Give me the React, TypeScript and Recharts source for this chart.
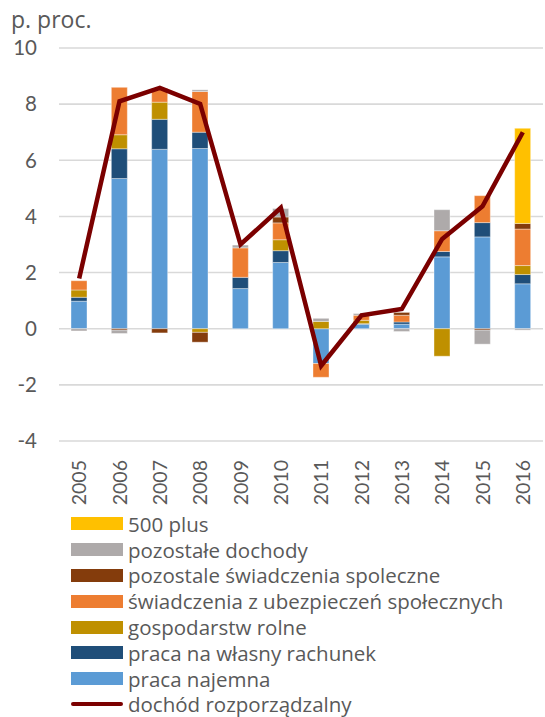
import React from 'react';
import {
  ComposedChart,
  Bar,
  Line,
  XAxis,
  YAxis,
  CartesianGrid,
  Legend,
} from 'recharts';

const lata = ['2005', '2006', '2007', '2008', '2009', '2010', '2011', '2012', '2013', '2014', '2015', '2016'];

// skladowe (p. proc.)
const pracaNajemna = [0.98, 5.35, 6.39, 6.42, 1.43, 2.36, -1.24, 0.15, 0.16, 2.56, 3.27, 1.6];
const pracaWlasna = [0.14, 1.06, 1.07, 0.58, 0.4, 0.42, 0, 0.03, 0.08, 0.19, 0.51, 0.33];
const gospRolne = [0.26, 0.5, 0.61, -0.13, 0, 0.39, 0.26, 0.12, 0, -0.98, 0, 0.32];
const swiadUbezp = [0.33, 1.69, 0.49, 1.45, 1.05, 0.6, -0.49, 0.18, 0.24, 0.74, 0.96, 1.3];
const pozSwiad = [0, -0.05, -0.15, -0.35, 0, 0.21, 0, 0, 0.1, 0, -0.05, 0.2];
const pozDochody = [-0.08, -0.12, 0, 0.06, 0.1, 0.3, 0.11, 0.06, -0.1, 0.75, -0.5, -0.05];
const plus500 = [0, 0, 0, 0, 0, 0, 0, 0, 0, 0, 0, 3.39];
const dochodRozp = [1.79, 8.1, 8.58, 8.01, 3.0, 4.31, -1.32, 0.48, 0.7, 3.2, 4.36, 7.0];

const yTicks = [-4, -2, 0, 2, 4, 6, 8, 10];

const SZARY = '#595959';
const FONT = 'Lato, "Open Sans", sans-serif';
const FONT_LEG = '"Open Sans", Lato, sans-serif';

const serie = [
  { key: 'najemna', name: 'praca najemna', color: '#5B9BD5' },
  { key: 'wlasna', name: 'praca na własny rachunek', color: '#1F4E79' },
  { key: 'rolne', name: 'gospodarstw rolne', color: '#BF9000' },
  { key: 'ubezp', name: 'świadczenia z ubezpieczeń społecznych', color: '#ED7D31' },
  { key: 'pozSw', name: 'pozostale świadczenia spoleczne', color: '#843C0C' },
  { key: 'pozDoch', name: 'pozostałe dochody', color: '#AEAAAA' },
  { key: 'plus', name: '500 plus', color: '#FFC000' },
];
const KOLOR_LINII = '#7B0000';

const data = lata.map((rok, i) => ({
  rok,
  najemna: pracaNajemna[i],
  wlasna: pracaWlasna[i],
  rolne: gospRolne[i],
  ubezp: swiadUbezp[i],
  pozSw: pozSwiad[i],
  pozDoch: pozDochody[i],
  plus: plus500[i],
  dochod: dochodRozp[i],
}));

function RokTick(props: any) {
  const { x, y, payload } = props;
  return (
    <text
      transform={`translate(${x},${y + 17}) rotate(-90)`}
      textAnchor="end"
      dy="0.36em"
      fontSize={19.5}
      fill={SZARY}
      fontFamily={FONT}
    >
      {payload.value}
    </text>
  );
}

function Legenda() {
  // kolejnosc jak w oryginale: od gory stosu w dol, linia na koncu
  const items = [...serie].reverse();
  return (
    <div style={{ height: 206, paddingLeft: 71, fontFamily: FONT_LEG, fontSize: 20.5, color: SZARY, lineHeight: '24px' }}>
      {items.map((s) => (
        <div key={s.key} style={{ height: 25.8, display: 'flex', alignItems: 'center' }}>
          <span style={{ width: 52, height: 13, background: s.color, marginRight: 5, display: 'inline-block', flex: 'none' }} />
          <span style={{ whiteSpace: 'nowrap' }}>{s.name}</span>
        </div>
      ))}
      <div style={{ height: 25.8, display: 'flex', alignItems: 'center' }}>
        <span style={{ width: 52, height: 4, background: KOLOR_LINII, borderRadius: 2, marginRight: 5, display: 'inline-block', flex: 'none' }} />
        <span style={{ whiteSpace: 'nowrap' }}>dochód rozporządzalny</span>
      </div>
    </div>
  );
}

export default function App() {
  return (
    <div style={{ position: 'absolute', left: 0, top: 0, width: 545, height: 717 }}>
      <div
        style={{
          position: 'absolute',
          left: 11,
          top: 5,
          fontFamily: FONT_LEG,
          fontSize: 23,
          color: SZARY,
          lineHeight: '28px',
        }}
      >
        p. proc.
      </div>
      <ComposedChart
        width={545}
        height={717}
        data={data}
        stackOffset="sign"
        margin={{ top: 48, right: 2, left: 0, bottom: 0 }}
      >
        <CartesianGrid vertical={false} stroke="#D9D9D9" strokeWidth={1.6} />
        <XAxis
          dataKey="rok"
          axisLine={false}
          tickLine={false}
          tickSize={0}
          interval={0}
          height={70}
          tick={<RokTick />}
        />
        <YAxis
          domain={[-4, 10]}
          ticks={yTicks}
          width={59}
          axisLine={false}
          tickLine={false}
          tickSize={0}
          tickMargin={22}
          tick={{ fontSize: 20.5, fill: SZARY, fontFamily: FONT }}
        />
        <Legend verticalAlign="bottom" content={() => <Legenda />} />
        {serie.map((s) => (
          <Bar
            key={s.key}
            dataKey={s.key}
            name={s.name}
            stackId="a"
            fill={s.color}
            barSize={16}
            stroke="#ffffff"
            strokeOpacity={0.5}
            strokeWidth={0.75}
            isAnimationActive={false}
          />
        ))}
        <Line
          type="linear"
          dataKey="dochod"
          name="dochód rozporządzalny"
          stroke={KOLOR_LINII}
          strokeWidth={4.5}
          dot={false}
          isAnimationActive={false}
        />
      </ComposedChart>
    </div>
  );
}
